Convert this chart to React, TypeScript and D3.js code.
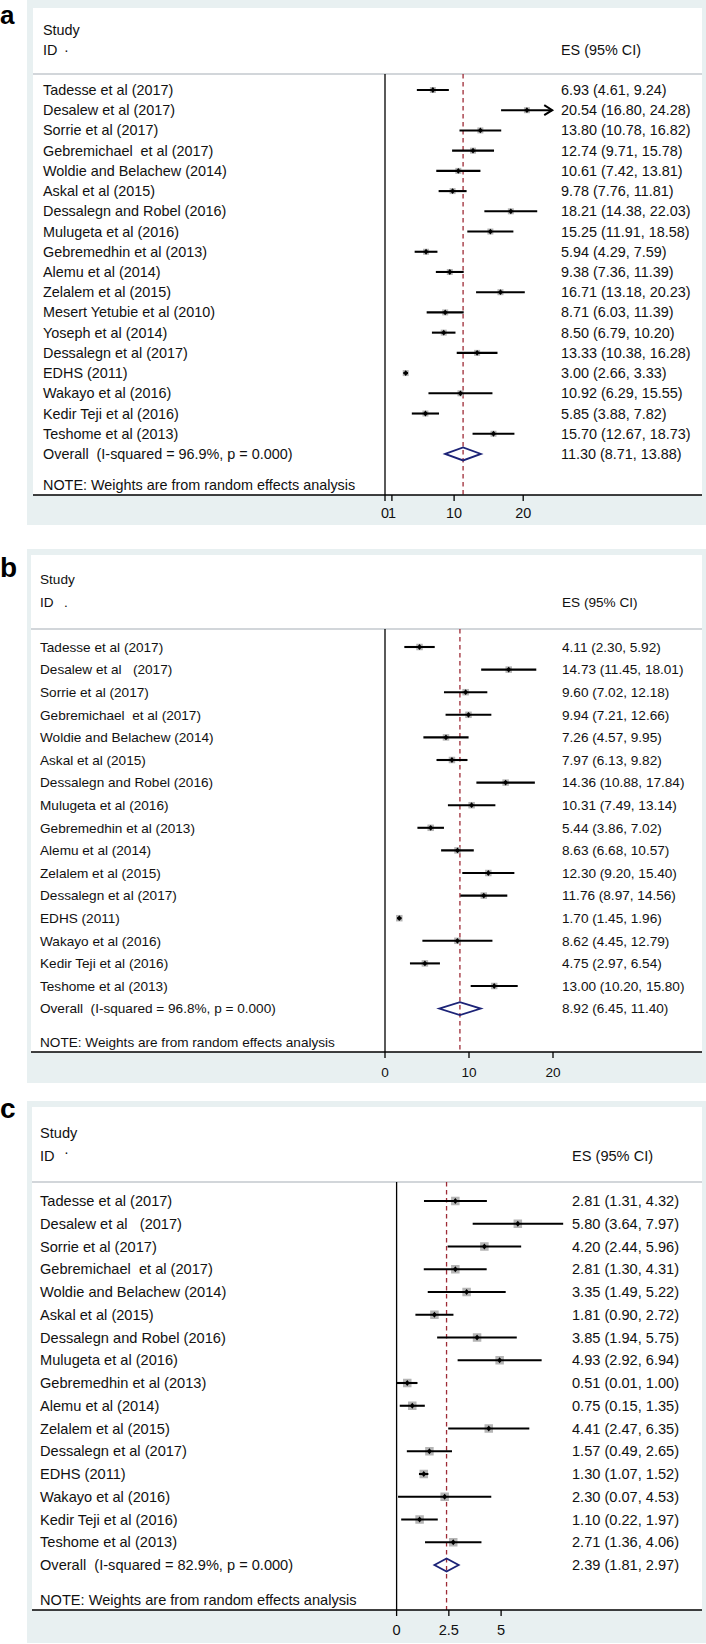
import React from "react";
import * as d3 from "d3";

// ---------- DATA ----------
const namesA = [
  "Tadesse et al (2017)",
  "Desalew et al (2017)",
  "Sorrie et al (2017)",
  "Gebremichael  et al (2017)",
  "Woldie and Belachew (2014)",
  "Askal et al (2015)",
  "Dessalegn and Robel (2016)",
  "Mulugeta et al (2016)",
  "Gebremedhin et al (2013)",
  "Alemu et al (2014)",
  "Zelalem et al (2015)",
  "Mesert Yetubie et al (2010)",
  "Yoseph et al (2014)",
  "Dessalegn et al (2017)",
  "EDHS (2011)",
  "Wakayo et al (2016)",
  "Kedir Teji et al (2016)",
  "Teshome et al (2013)",
];
const esA = [6.93, 20.54, 13.8, 12.74, 10.61, 9.78, 18.21, 15.25, 5.94, 9.38, 16.71, 8.71, 8.5, 13.33, 3.0, 10.92, 5.85, 15.7];
const lowA = [4.61, 16.8, 10.78, 9.71, 7.42, 7.76, 14.38, 11.91, 4.29, 7.36, 13.18, 6.03, 6.79, 10.38, 2.66, 6.29, 3.88, 12.67];
const highA = [9.24, 24.28, 16.82, 15.78, 13.81, 11.81, 22.03, 18.58, 7.59, 11.39, 20.23, 11.39, 10.2, 16.28, 3.33, 15.55, 7.82, 18.73];
const overallA = [11.3, 8.71, 13.88];
const isqA = "96.9%";
const ticksA = [0, 1, 10, 20];

const namesBC = [
  "Tadesse et al (2017)",
  "Desalew et al   (2017)",
  "Sorrie et al (2017)",
  "Gebremichael  et al (2017)",
  "Woldie and Belachew (2014)",
  "Askal et al (2015)",
  "Dessalegn and Robel (2016)",
  "Mulugeta et al (2016)",
  "Gebremedhin et al (2013)",
  "Alemu et al (2014)",
  "Zelalem et al (2015)",
  "Dessalegn et al (2017)",
  "EDHS (2011)",
  "Wakayo et al (2016)",
  "Kedir Teji et al (2016)",
  "Teshome et al (2013)",
];
const esB = [4.11, 14.73, 9.6, 9.94, 7.26, 7.97, 14.36, 10.31, 5.44, 8.63, 12.3, 11.76, 1.7, 8.62, 4.75, 13.0];
const lowB = [2.3, 11.45, 7.02, 7.21, 4.57, 6.13, 10.88, 7.49, 3.86, 6.68, 9.2, 8.97, 1.45, 4.45, 2.97, 10.2];
const highB = [5.92, 18.01, 12.18, 12.66, 9.95, 9.82, 17.84, 13.14, 7.02, 10.57, 15.4, 14.56, 1.96, 12.79, 6.54, 15.8];
const overallB = [8.92, 6.45, 11.4];
const isqB = "96.8%";
const ticksB = [0, 10, 20];

const esC = [2.81, 5.8, 4.2, 2.81, 3.35, 1.81, 3.85, 4.93, 0.51, 0.75, 4.41, 1.57, 1.3, 2.3, 1.1, 2.71];
const lowC = [1.31, 3.64, 2.44, 1.3, 1.49, 0.9, 1.94, 2.92, 0.01, 0.15, 2.47, 0.49, 1.07, 0.07, 0.22, 1.36];
const highC = [4.32, 7.97, 5.96, 4.31, 5.22, 2.72, 5.75, 6.94, 1.0, 1.35, 6.35, 2.65, 1.52, 4.53, 1.97, 4.06];
const overallC = [2.39, 1.81, 2.97];
const isqC = "82.9%";
const ticksC = [0, 2.5, 5];

// ---------- LAYOUT ----------
const FONT = "'Liberation Sans', Arial, Helvetica, sans-serif";
const BG = "#e8f0f1";

type Layout = {
  letter: string; letterY: number; letterSize: number;
  outerTop: number; outerBottom: number; boxTop: number;
  studyY: number; idY: number; idDot: string; idDotX: number; idDotDy: number;
  headerY: number; rowY0: number; rowStep: number;
  noteY: number; axisY: number; tickLabelY: number;
  x0: number; xRef: number; refVal: number; plotMax: number;
  esX: number; textX: number; boxLeft: number; outerLeft: number;
  fontSize: number; boxSize: number;
};

const layoutA: Layout = {
  letter: "a", letterY: 24, letterSize: 26, outerTop: 0, outerBottom: 525, boxTop: 8,
  studyY: 30, idY: 50, idDot: "·", idDotX: 64, idDotDy: 0,
  headerY: 74, rowY0: 90, rowStep: 20.22, noteY: 485, axisY: 495, tickLabelY: 513,
  x0: 385, xRef: 523.2, refVal: 20, plotMax: 24.2,
  esX: 561, textX: 43, boxLeft: 33, outerLeft: 27, fontSize: 14.4, boxSize: 6,
};
const layoutB: Layout = {
  letter: "b", letterY: 577, letterSize: 28, outerTop: 549, outerBottom: 1083, boxTop: 555,
  studyY: 579, idY: 602, idDot: ".", idDotX: 64, idDotDy: 0,
  headerY: 629, rowY0: 647, rowStep: 22.6, noteY: 1042, axisY: 1052, tickLabelY: 1072,
  x0: 385, xRef: 553, refVal: 20, plotMax: 20,
  esX: 562, textX: 40, boxLeft: 31, outerLeft: 27, fontSize: 13.6, boxSize: 6.5,
};
const layoutC: Layout = {
  letter: "c", letterY: 1118, letterSize: 28, outerTop: 1101, outerBottom: 1643, boxTop: 1107,
  studyY: 1133, idY: 1156, idDot: "·", idDotX: 64, idDotDy: -4,
  headerY: 1182, rowY0: 1201, rowStep: 22.75, noteY: 1600, axisY: 1610, tickLabelY: 1630,
  x0: 396.6, xRef: 501.1, refVal: 5, plotMax: 8,
  esX: 572, textX: 40, boxLeft: 32, outerLeft: 27, fontSize: 14.6, boxSize: 8.5,
};

const fmt = d3.format(".2f");

function Panel({ L, names, es, low, high, overall, isq, ticks }: {
  L: Layout; names: string[]; es: number[]; low: number[]; high: number[];
  overall: number[]; isq: string; ticks: number[];
}) {
  const x = d3.scaleLinear().domain([0, L.refVal]).range([L.x0, L.xRef]);
  const rows = names.length;
  const y = (i: number) => L.rowY0 + i * L.rowStep;
  const oy = y(rows);
  const right = 702;
  const txt = { fontFamily: FONT, fontSize: L.fontSize, fill: "#111", whiteSpace: "pre" as const };
  const b = L.boxSize;
  return (
    <g>
      <rect x={L.outerLeft} y={L.outerTop} width={706 - L.outerLeft} height={L.outerBottom - L.outerTop} fill={BG} />
      <rect x={L.boxLeft} y={L.boxTop} width={right - L.boxLeft} height={L.axisY - L.boxTop} fill="#fff" />
      <text x={0} y={L.letterY} style={{ fontFamily: FONT, fontSize: L.letterSize, fontWeight: "bold", fill: "#000" }}>{L.letter}</text>
      <text x={L.textX} y={L.studyY} dy="0.35em" style={txt}>Study</text>
      <text x={L.textX} y={L.idY} dy="0.35em" style={txt}>ID</text>
      <text x={L.idDotX} y={L.idY + L.idDotDy} dy="0.35em" style={txt}>{L.idDot}</text>
      <text x={L.esX} y={L.idY} dy="0.35em" style={txt}>ES (95% CI)</text>
      <line x1={L.boxLeft} x2={right} y1={L.headerY} y2={L.headerY} stroke="#c3c9ce" strokeWidth={1.5} />
      {/* zero line */}
      <line x1={x(0)} x2={x(0)} y1={L.headerY} y2={L.axisY} stroke="#000" strokeWidth={1.3} />
      {/* overall dashed line */}
      <line x1={x(overall[0])} x2={x(overall[0])} y1={L.headerY} y2={L.axisY} stroke="#9e2b36" strokeWidth={1.3} strokeDasharray="4.5,3.5" />
      {names.map((n, i) => {
        const yy = y(i);
        const hiClamped = Math.min(high[i], L.plotMax);
        const arrow = high[i] > L.plotMax;
        const ax = x(hiClamped);
        return (
          <g key={i}>
            <text x={L.textX} y={yy} dy="0.35em" style={txt}>{n}</text>
            <rect x={x(es[i]) - b / 2} y={yy - b / 2} width={b} height={b} fill="#b5b5b5" />
            <line x1={x(low[i])} x2={ax} y1={yy} y2={yy} stroke="#000" strokeWidth={2.1} />
            {arrow && (
              <polyline points={`${ax - 8},${yy - 5} ${ax},${yy} ${ax - 8},${yy + 5}`} fill="none" stroke="#000" strokeWidth={2} />
            )}
            <path d={`M${x(es[i])},${yy - 2.9} L${x(es[i]) + 2.4},${yy} L${x(es[i])},${yy + 2.9} L${x(es[i]) - 2.4},${yy} Z`} fill="#000" />
            <text x={L.esX} y={yy} dy="0.35em" style={txt}>{`${fmt(es[i])} (${fmt(low[i])}, ${fmt(high[i])})`}</text>
          </g>
        );
      })}
      <text x={L.textX} y={oy} dy="0.35em" style={txt}>{`Overall  (I-squared = ${isq}, p = 0.000)`}</text>
      <path
        d={`M${x(overall[1])},${oy} L${x(overall[0])},${oy - 6.5} L${x(overall[2])},${oy} L${x(overall[0])},${oy + 6.5} Z`}
        fill="none" stroke="#1c2377" strokeWidth={1.8}
      />
      <text x={L.esX} y={oy} dy="0.35em" style={txt}>{`${fmt(overall[0])} (${fmt(overall[1])}, ${fmt(overall[2])})`}</text>
      <text x={L.textX} y={L.noteY} dy="0.35em" style={txt}>NOTE: Weights are from random effects analysis</text>
      {/* axis */}
      <line x1={L.boxLeft} x2={right} y1={L.axisY} y2={L.axisY} stroke="#000" strokeWidth={1.5} />
      {ticks.map((t, i) => (
        <g key={i}>
          <line x1={x(t)} x2={x(t)} y1={L.axisY} y2={L.axisY + 6} stroke="#000" strokeWidth={1.3} />
          <text x={x(t)} y={L.tickLabelY} dy="0.35em" textAnchor="middle" style={txt}>{String(t)}</text>
        </g>
      ))}
    </g>
  );
}

export default function App() {
  return (
    <div style={{ position: "absolute", left: 0, top: 0, width: 706, height: 1644, background: "#fff" }}>
      <svg width={706} height={1644} viewBox="0 0 706 1644" style={{ display: "block" }}>
        <rect x={0} y={0} width={706} height={1644} fill="#fff" />
        <Panel L={layoutA} names={namesA} es={esA} low={lowA} high={highA} overall={overallA} isq={isqA} ticks={ticksA} />
        <Panel L={layoutB} names={namesBC} es={esB} low={lowB} high={highB} overall={overallB} isq={isqB} ticks={ticksB} />
        <Panel L={layoutC} names={namesBC} es={esC} low={lowC} high={highC} overall={overallC} isq={isqC} ticks={ticksC} />
      </svg>
    </div>
  );
}
